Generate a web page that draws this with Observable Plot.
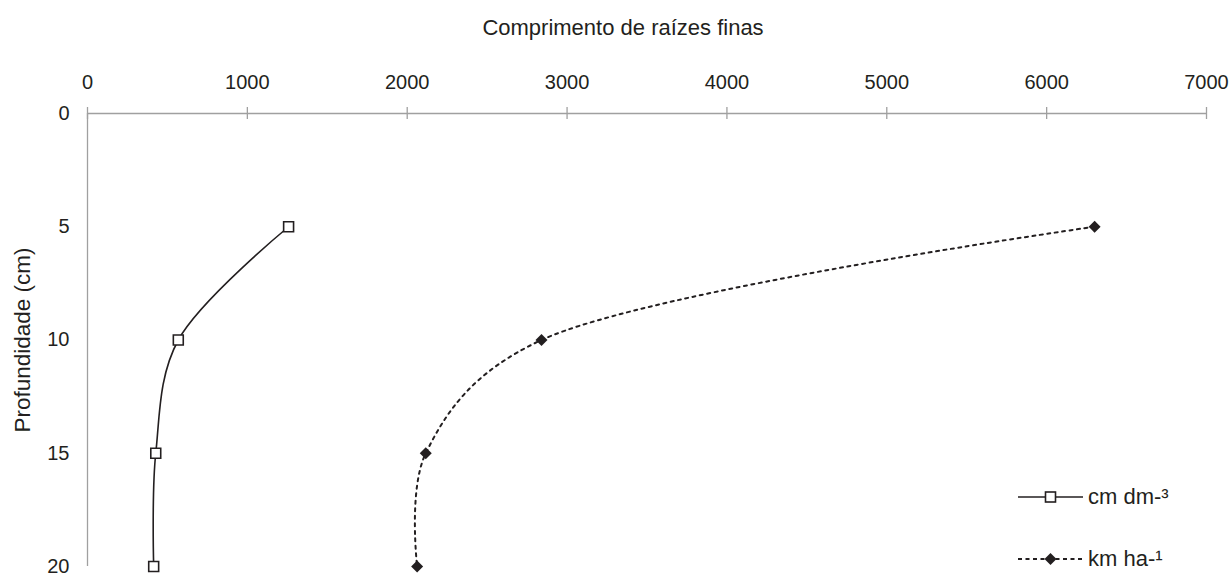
<!DOCTYPE html>
<html>
<head>
<meta charset="utf-8">
<script src="https://cdn.jsdelivr.net/npm/d3@7"></script>
<script src="https://cdn.jsdelivr.net/npm/@observablehq/plot@0.6"></script>
<style>
  body { margin: 0; background: #fff; }
  #wrap { position: relative; width: 1232px; height: 575px; font-family: "Liberation Sans", Arial, sans-serif; color: #231f20; }
  .leg { position: absolute; display: flex; align-items: center; font-size: 22px; line-height: 22px; }
  .leg svg { display: block; margin-right: 4px; }
</style>
</head>
<body>
<div id="wrap"></div>
<script>
// ---- data ----
const depths = [5, 10, 15, 20];
const cmDm3 = [1258, 568, 427, 414];     // cm dm-³
const kmHa = [6300, 2840, 2116, 2062];   // km ha-¹
const seriesNames = ["cm dm-³", "km ha-¹"];
const xTicks = [0, 1000, 2000, 3000, 4000, 5000, 6000, 7000];
const yTicks = [0, 5, 10, 15, 20];
const xTitle = "Comprimento de raízes finas";
const yTitle = "Profundidade (cm)";

const cmData = depths.map((d, i) => ({depth: d, value: cmDm3[i]}));
const kmData = depths.map((d, i) => ({depth: d, value: kmHa[i]}));

const ink = "#231f20";
const axisGrey = "#a0a0a0";
const diamond = d3.symbolDiamond2 || "diamond";

const chart = Plot.plot({
  width: 1232,
  height: 575,
  marginLeft: 87,
  marginRight: 26,
  marginTop: 113,
  marginBottom: 9,
  style: {fontFamily: "'Liberation Sans', Arial, sans-serif", fontSize: "20px", color: ink, background: "#fff"},
  x: {domain: [0, 7000]},
  y: {domain: [0, 20], reverse: true},
  marks: [
    Plot.axisX({anchor: "top", ticks: xTicks, tickSize: 0, tickPadding: 25, tickFormat: d => String(d), label: null, fill: ink}),
    Plot.axisY({anchor: "left", ticks: yTicks, tickSize: 0, tickPadding: 18, tickFormat: d => String(d), label: null, fill: ink}),
    Plot.text([xTitle], {frameAnchor: "top", textAnchor: "middle", lineAnchor: "middle", dx: -24, dy: -86, fontSize: 22, fill: ink}),
    Plot.text([yTitle], {frameAnchor: "left", textAnchor: "middle", lineAnchor: "middle", rotate: -90, dx: -65, fontSize: 22.5, fill: ink}),
    Plot.ruleY([0], {stroke: axisGrey, strokeWidth: 1.3}),
    Plot.ruleX([0], {stroke: axisGrey, strokeWidth: 1.3}),
    Plot.ruleX(xTicks, {x: d => d, y1: 0, y2: 0, insetTop: 6, insetBottom: 6, stroke: axisGrey, strokeWidth: 1.3}),
    Plot.line(cmData, {x: "value", y: "depth", curve: "catmull-rom", tension: 0.35, stroke: ink, strokeWidth: 1.6}),
    Plot.line(kmData, {x: "value", y: "depth", curve: "catmull-rom", tension: 0.35, stroke: ink, strokeWidth: 2, strokeDasharray: "3 4.5"}),
    Plot.dot(cmData, {x: "value", y: "depth", symbol: "square", r: 5.6, stroke: ink, strokeWidth: 1.6, fill: "#fff"}),
    Plot.dot(kmData, {x: "value", y: "depth", symbol: diamond, r: 5.4, fill: ink, stroke: "none"})
  ]
});
const wrap = document.getElementById("wrap");
wrap.appendChild(chart);

// ---- legend ----
function legendRow(name, top, dashed, marker) {
  const row = document.createElement("div");
  row.className = "leg";
  row.style.left = "1017px";
  row.style.top = (top - 12) + "px";
  const mk = marker === "square"
    ? `<rect x="28.5" y="7" width="10" height="10" fill="#fff" stroke="${ink}" stroke-width="1.6"/>`
    : `<path d="M33.5,6 L39.5,12 L33.5,18 L27.5,12 Z" fill="${ink}"/>`;
  row.innerHTML = `<svg width="67" height="24"><line x1="1" x2="66" y1="12" y2="12" stroke="${ink}" stroke-width="${dashed ? 2 : 1.6}" ${dashed ? 'stroke-dasharray="4 3.5"' : ""}/>${mk}</svg><span>${name}</span>`;
  wrap.appendChild(row);
}
legendRow(seriesNames[0], 497, false, "square");
legendRow(seriesNames[1], 559, true, "diamond");
</script>
</body>
</html>
